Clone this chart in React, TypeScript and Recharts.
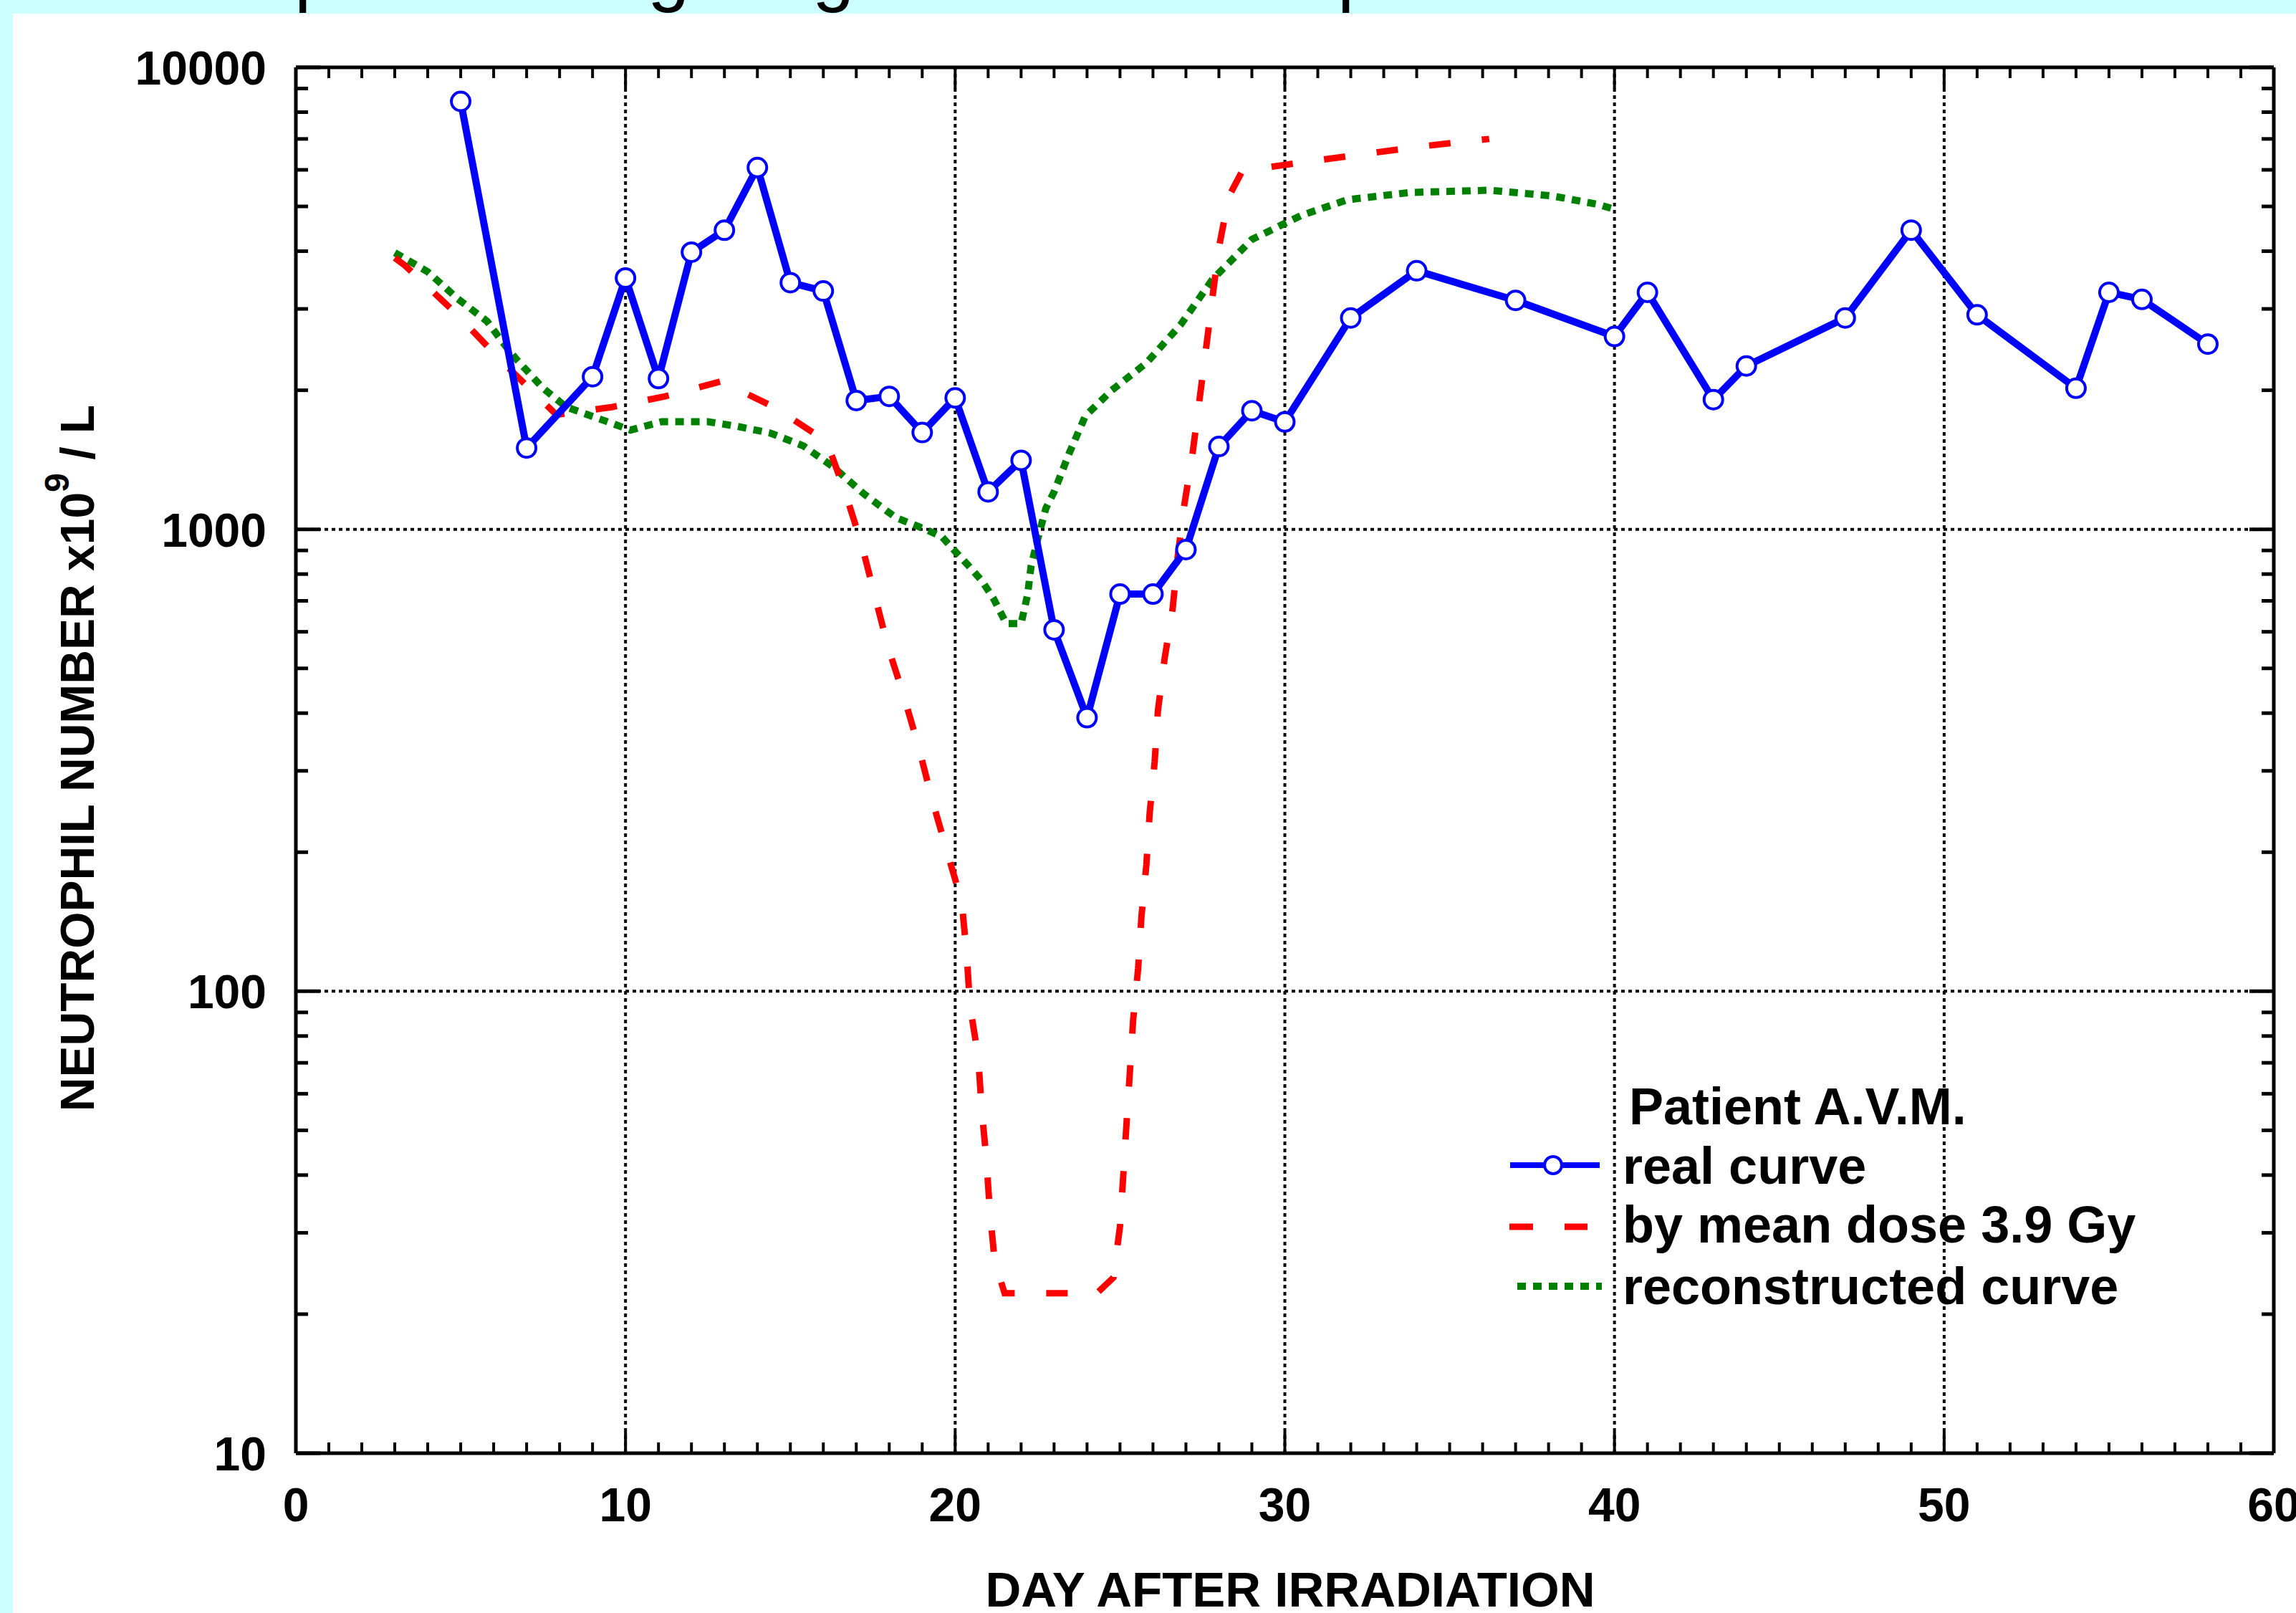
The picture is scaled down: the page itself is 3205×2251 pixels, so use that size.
import React from 'react';
import { LineChart, Line, XAxis, YAxis, ReferenceLine } from 'recharts';

// real curve (measured neutrophil counts)
const realDays = [5, 7, 9, 10, 11, 12, 13, 14, 15, 16, 17, 18, 19, 20, 21, 22, 23, 24, 25, 26, 27, 28, 29, 30, 32, 34, 37, 40, 41, 43, 44, 47, 49, 51, 54, 55, 56, 58];
const realCounts = [8440, 1500, 2140, 3500, 2120, 3980, 4440, 6070, 3420, 3280, 1900, 1940, 1620, 1925, 1205, 1410, 606, 391, 724, 724, 904, 1511, 1806, 1708, 2868, 3628, 3130, 2615, 3258, 1909, 2257, 2868, 4443, 2913, 2020, 3258, 3146, 2517];

// by mean dose 3.9 Gy
const doseDays = [3, 3.3, 4.8, 6.3, 7.9, 9.6, 11.2, 12.9, 14.5, 16.1, 16.65, 17.15, 17.55, 17.95, 18.45, 18.9, 19.3, 19.75, 20.2, 20.35, 20.45, 20.7, 20.8, 20.95, 21.05, 21.2, 21.5, 24.3, 24.8, 25, 25.1, 25.2, 25.3, 25.4, 25.55, 25.65, 25.8, 25.9, 26.05, 26.15, 26.35, 26.6, 26.75, 26.95, 27.2, 27.4, 27.6, 27.8, 28.0, 28.3, 28.7, 29.3, 30.9, 32.6, 34.2, 36.2];
const doseCounts = [3870, 3730, 2960, 2290, 1770, 1840, 1940, 2090, 1840, 1550, 1210, 935, 724, 560, 434, 336, 260, 201, 156, 120, 93, 72, 56, 43, 33.5, 26, 22.2, 22.2, 24, 31, 40, 52, 67, 87, 112, 145, 188, 243, 313, 405, 523, 676, 873, 1128, 1457, 1880, 2430, 3160, 4070, 5250, 5950, 6050, 6280, 6520, 6750, 7000];

// reconstructed curve
const reconDays = [3, 4, 4.9, 5.8, 6.35, 6.7, 7.5, 8.2, 9.2, 10.15, 11.1, 12.5, 13.4, 14.4, 15.4, 16.3, 17.25, 18.2, 19.1, 19.6, 19.95, 20.4, 20.8, 21.15, 21.55, 22.0, 22.2, 22.3, 22.5, 22.75, 23.0, 23.45, 23.95, 24.75, 25.8, 26.85, 27.8, 29, 30.5, 31.9, 33.8, 36.2, 38.1, 39.5, 40];
const reconCounts = [3970, 3610, 3160, 2820, 2500, 2330, 2020, 1840, 1735, 1640, 1710, 1710, 1670, 1615, 1515, 1365, 1190, 1060, 1000, 963, 904, 835, 775, 711, 625, 625, 724, 830, 951, 1110, 1205, 1456, 1760, 2000, 2290, 2780, 3470, 4240, 4780, 5170, 5360, 5420, 5270, 5050, 4930];

const xTicks = Array.from({ length: 61 }, (_, i) => i);
const yTicks = [10, 20, 30, 40, 50, 60, 70, 80, 90, 100, 200, 300, 400, 500, 600, 700, 800, 900, 1000, 2000, 3000, 4000, 5000, 6000, 7000, 8000, 9000, 10000];
const gridDays = [10, 20, 30, 40, 50];
const gridCounts = [100, 1000];

const toPoints = (days: number[], counts: number[]) => days.map((d, i) => ({ day: d, count: counts[i] }));
const realData = toPoints(realDays, realCounts);
const doseData = toPoints(doseDays, doseCounts);
const reconData = toPoints(reconDays, reconCounts);

const W = 3205;
const H = 2251;
const PLOT_TOP = 94;
const PLOT_LEFT = 413;
const PLOT_RIGHT = 3174;
const PLOT_BOTTOM = 2028;
const FONT = '"Liberation Sans", Arial, sans-serif';

const BLUE = '#0000ff';
const RED = '#ff0000';
const GREEN = '#008000';

const XTick = (props: any) => {
  const { x, y, payload } = props;
  const major = payload.value % 10 === 0;
  const len = major ? 30 : 15;
  return (
    <g>
      <line x1={x} y1={y} x2={x} y2={y - len} stroke="#000" strokeWidth={4} />
      <line x1={x} y1={PLOT_TOP} x2={x} y2={PLOT_TOP + len} stroke="#000" strokeWidth={4} />
      {major && (
        <text x={x} y={y + 95} textAnchor="middle" fontSize={66} fontWeight="bold" fontFamily={FONT} fill="#000">
          {payload.value}
        </text>
      )}
    </g>
  );
};

const YTick = (props: any) => {
  const { x, y, payload } = props;
  const v = payload.value;
  const major = Math.abs(Math.log10(v) - Math.round(Math.log10(v))) < 1e-6;
  const len = major ? 34 : 17;
  return (
    <g>
      <line x1={x} y1={y} x2={x + len} y2={y} stroke="#000" strokeWidth={5} />
      <line x1={PLOT_RIGHT - len} y1={y} x2={PLOT_RIGHT} y2={y} stroke="#000" strokeWidth={5} />
      {major && (
        <text x={x - 41} y={y + 24} textAnchor="end" fontSize={66} fontWeight="bold" fontFamily={FONT} fill="#000">
          {v}
        </text>
      )}
    </g>
  );
};

export default function App() {
  return (
    <div style={{ position: 'absolute', left: 0, top: 0, width: W, height: H, background: '#ccffff', overflow: 'hidden', fontFamily: FONT }}>
      {/* cut-off slide title above the picture */}
      <svg width={W} height={19} style={{ position: 'absolute', left: 0, top: 0 }}>
        <text y={-4} fontSize={105} fontFamily={FONT} fill="#000">
          <tspan x={411}>p</tspan>
          <tspan x={904}>g</tspan>
          <tspan x={1134}>g</tspan>
          <tspan x={1867}>p</tspan>
        </text>
      </svg>
      <div style={{ position: 'absolute', left: 18, top: 19, width: W - 18, height: H - 19, background: '#ffffff' }} />
      <div style={{ position: 'absolute', left: 0, top: 0 }}>
        <LineChart width={W} height={H} margin={{ top: PLOT_TOP, right: W - PLOT_RIGHT, bottom: H - PLOT_BOTTOM - 30, left: PLOT_LEFT - 60 }}>
          <XAxis
            dataKey="day"
            type="number"
            domain={[0, 60]}
            ticks={xTicks}
            interval={0}
            height={30}
            tickSize={0}
            tickMargin={0}
            tickLine={false}
            tick={(p: any) => <XTick {...p} />}
            axisLine={{ stroke: '#000', strokeWidth: 5 }}
            allowDataOverflow
          />
          <YAxis
            type="number"
            scale="log"
            domain={[10, 10000]}
            ticks={yTicks}
            interval={0}
            width={60}
            tickSize={0}
            tickMargin={0}
            tickLine={false}
            tick={(p: any) => <YTick {...p} />}
            axisLine={{ stroke: '#000', strokeWidth: 5 }}
            allowDataOverflow
          />
          {gridDays.map((d) => (
            <ReferenceLine key={'gx' + d} x={d} stroke="#000" strokeWidth={4} strokeDasharray="5 5" />
          ))}
          {gridCounts.map((v) => (
            <ReferenceLine key={'gy' + v} y={v} stroke="#000" strokeWidth={4} strokeDasharray="5 5" />
          ))}
          <Line
            name="reconstructed curve"
            data={reconData}
            dataKey="count"
            type="linear"
            stroke={GREEN}
            strokeWidth={10}
            strokeDasharray="12 10"
            dot={false}
            activeDot={false}
            isAnimationActive={false}
          />
          <Line
            name="by mean dose 3.9 Gy"
            data={doseData}
            dataKey="count"
            type="linear"
            stroke={RED}
            strokeWidth={9}
            strokeDasharray="30 44"
            dot={false}
            activeDot={false}
            isAnimationActive={false}
          />
          <Line
            name="real curve"
            data={realData}
            dataKey="count"
            type="linear"
            stroke={BLUE}
            strokeWidth={10}
            strokeLinejoin="round"
            dot={{ r: 13, fill: '#ffffff', stroke: BLUE, strokeWidth: 4 }}
            activeDot={false}
            isAnimationActive={false}
          />
          <ReferenceLine y={10000} stroke="#000" strokeWidth={5} />
          <ReferenceLine x={60} stroke="#000" strokeWidth={5} />
        </LineChart>
      </div>
      <svg width={W} height={H} style={{ position: 'absolute', left: 0, top: 0, pointerEvents: 'none' }}>
        <text
          x={131}
          y={1058}
          transform="rotate(-90 131 1058)"
          textAnchor="middle"
          fontSize={66}
          fontWeight="bold"
          fontFamily={FONT}
          fill="#000"
        >
          NEUTROPHIL NUMBER x10
          <tspan dy={-35} fontSize={48}>9</tspan>
          <tspan dy={35}> / L</tspan>
        </text>
        <text x={1801} y={2242} textAnchor="middle" fontSize={69} fontWeight="bold" fontFamily={FONT} fill="#000">
          DAY AFTER IRRADIATION
        </text>
        <g fontFamily={FONT} fontWeight="bold" fontSize={72} fill="#000">
          <text x={2274} y={1569}>Patient A.V.M.</text>
          <line x1={2108} y1={1626} x2={2233} y2={1626} stroke={BLUE} strokeWidth={8} />
          <circle cx={2168} cy={1626} r={12} fill="#fff" stroke={BLUE} strokeWidth={4} />
          <text x={2265} y={1652}>real curve</text>
          <line x1={2107} y1={1712} x2={2216} y2={1712} stroke={RED} strokeWidth={9} strokeDasharray="33 44" />
          <text x={2265} y={1734}>by mean dose 3.9 Gy</text>
          <line x1={2118} y1={1795} x2={2236} y2={1795} stroke={GREEN} strokeWidth={10} strokeDasharray="12 10" />
          <text x={2265} y={1820}>reconstructed curve</text>
        </g>
      </svg>
    </div>
  );
}
